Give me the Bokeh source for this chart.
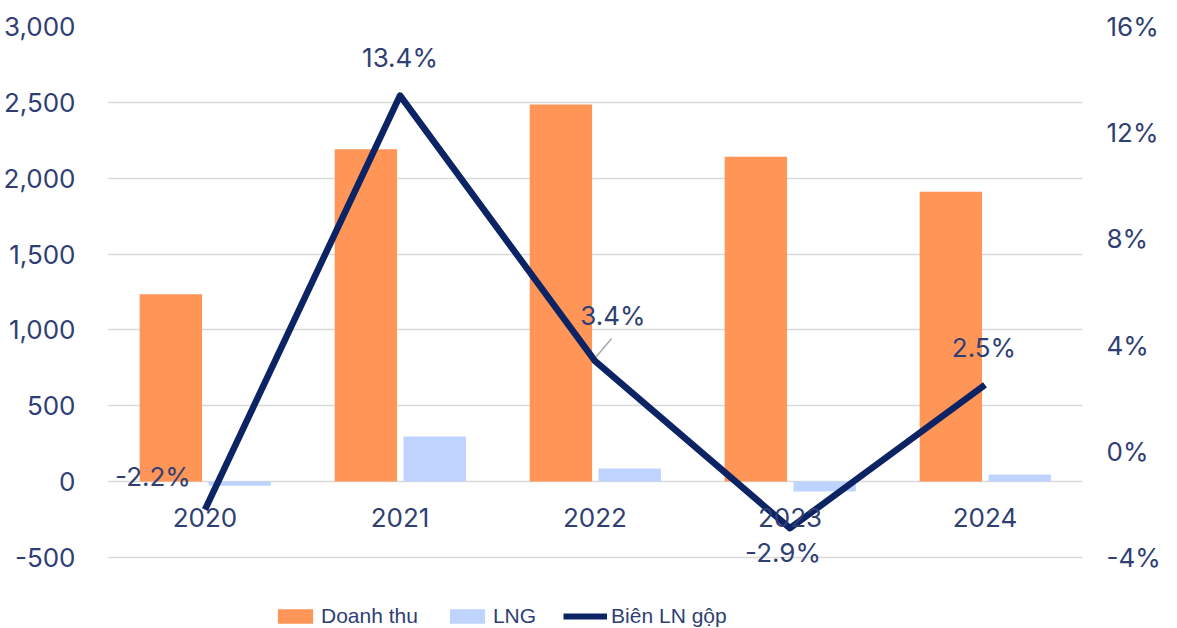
from bokeh.plotting import figure
from bokeh.layouts import column
from bokeh.models import (FactorRange, Range1d, LinearAxis, NumeralTickFormatter,
                          PrintfTickFormatter, FixedTicker, Legend, LegendItem,
                          ColumnDataSource, LabelSet)
from bokeh.transform import dodge
from bokeh.core.properties import value
from bokeh.embed import file_html
from bokeh.resources import INLINE

years = ["2020", "2021", "2022", "2023", "2024"]
doanh_thu = [1235, 2190, 2485, 2142, 1910]
lng = [-27, 297, 86, -66, 46]
bien_ln_gop = [-2.2, 13.4, 3.4, -2.9, 2.5]
bien_labels = ["-2.2%", "13.4%", "3.4%", "-2.9%", "2.5%"]

left_ticks = [-500, 0, 500, 1000, 1500, 2000, 2500, 3000]
right_ticks = [-4, 0, 4, 8, 12, 16]

ORANGE = "#FF9557"
BLUE = "#BFD3FF"
NAVY = "#0C2463"
TXT = "#2F3F73"
GRID = "#D9D9D9"
FONT = "Inter"
FS = "26px"

src = ColumnDataSource(dict(year=years, dt=doanh_thu, lng=lng, pct=bien_ln_gop, lab=bien_labels))

# axes: left -500..3000, right -4..16 share the same pixel span; a little extra room
# is added below both so the lowest label is not clipped by the frame
L_LO, L_HI = -500, 3000
R_LO, R_HI = -4, 16
extra = 60  # in left-axis units
r_extra = extra * (R_HI - R_LO) / (L_HI - L_LO)

p = figure(width=1177, height=598, x_range=FactorRange(*years),
           y_range=Range1d(L_LO - extra, L_HI), output_backend="svg", toolbar_location=None,
           min_border_left=107, min_border_right=95, min_border_top=26, min_border_bottom=32)
p.extra_y_ranges = {"pct": Range1d(R_LO - r_extra, R_HI)}
p.outline_line_color = None
p.background_fill_color = "white"
p.border_fill_color = "white"

# left axis
ya = p.yaxis[0]
ya.ticker = FixedTicker(ticks=left_ticks)
ya.formatter = NumeralTickFormatter(format="0,0")
ya.axis_line_color = None
ya.major_tick_line_color = None
ya.minor_tick_line_color = None
ya.major_label_text_font = FONT
ya.major_label_text_font_size = FS
ya.major_label_text_color = TXT
ya.major_label_standoff = 26

ra = LinearAxis(y_range_name="pct", ticker=FixedTicker(ticks=right_ticks),
                formatter=PrintfTickFormatter(format="%d%%"))
ra.axis_line_color = None
ra.major_tick_line_color = None
ra.minor_tick_line_color = None
ra.major_label_text_font = FONT
ra.major_label_text_font_size = FS
ra.major_label_text_color = TXT
ra.major_label_standoff = 18
p.add_layout(ra, "right")

p.ygrid.ticker = FixedTicker(ticks=left_ticks)
p.ygrid.grid_line_color = GRID
p.ygrid.grid_line_width = 1.5
p.xgrid.grid_line_color = None

# category axis sits on the zero line: draw its labels there
p.xaxis.visible = False
year_src = ColumnDataSource(dict(year=years, y0=[0] * len(years)))
p.add_layout(LabelSet(x="year", y="y0", text="year", source=year_src, y_offset=-36,
                      text_align="center", text_baseline="middle",
                      text_font=value(FONT), text_font_size=value(FS), text_color=value(TXT)))

r1 = p.vbar(x=dodge("year", -0.175, range=p.x_range), top="dt", width=0.32,
            source=src, fill_color=ORANGE, line_color=None)
r2 = p.vbar(x=dodge("year", 0.178, range=p.x_range), top="lng", width=0.32,
            source=src, fill_color=BLUE, line_color=None)
r3 = p.line(x="year", y="pct", source=src, y_range_name="pct",
            line_color=NAVY, line_width=6.5, line_join="round")

# leader line from the 2022 point up to its label
i22 = years.index("2022")
lead_src = ColumnDataSource(dict(year=[years[i22]], y0=[bien_ln_gop[i22] + 0.15],
                                 y1=[bien_ln_gop[i22] + 0.85]))
p.segment(x0=dodge("year", 0.005, range=p.x_range), y0="y0",
          x1=dodge("year", 0.085, range=p.x_range), y1="y1",
          source=lead_src, y_range_name="pct", line_color="#A6A6A6", line_width=1.5)

# data labels: individual offsets (screen px)
xoff = [-52, 0, 18, -7, -1]
yoff = [33, 38, 45, -24, 37]
label_src = ColumnDataSource(dict(year=years, pct=bien_ln_gop, lab=bien_labels, xo=xoff, yo=yoff))
p.add_layout(LabelSet(x="year", y="pct", text="lab", source=label_src, y_range_name="pct",
                      x_offset="xo", y_offset="yo", text_align="center", text_baseline="middle",
                      text_font=value(FONT), text_font_size=value(FS), text_color=value(TXT)))

# legend strip below the chart (its frame is aligned with the chart's frame)
lf = figure(width=1177, height=30, x_range=Range1d(0, 1), y_range=Range1d(0, 1),
            output_backend="svg", toolbar_location=None, x_axis_type=None, y_axis_type=None,
            min_border_left=0, min_border_right=0, min_border_top=0, min_border_bottom=0)
lf.outline_line_color = None
lf.grid.visible = False
off = ColumnDataSource(dict(x=[-10], y=[-10]))  # outside the strip's ranges
l1 = lf.vbar(x="x", top="y", width=0.1, source=off, fill_color=ORANGE, line_color=None)
l2 = lf.vbar(x="x", top="y", width=0.1, source=off, fill_color=BLUE, line_color=None)
l3 = lf.line(x="x", y="y", source=off, line_color=NAVY, line_width=6)

legend = Legend(items=[LegendItem(label="Doanh thu", renderers=[l1]),
                       LegendItem(label="LNG", renderers=[l2]),
                       LegendItem(label="Biên LN gộp", renderers=[l3])],
                orientation="horizontal", location=(166, 0),
                label_text_font="Liberation Sans", label_text_font_size="21px",
                label_text_color=TXT, glyph_width=44, glyph_height=18,
                spacing=27, label_standoff=4, padding=3, margin=0,
                border_line_color=None, background_fill_alpha=0)
lf.add_layout(legend, "center")

open("out.html", "w").write(file_html(column(p, lf), INLINE))
